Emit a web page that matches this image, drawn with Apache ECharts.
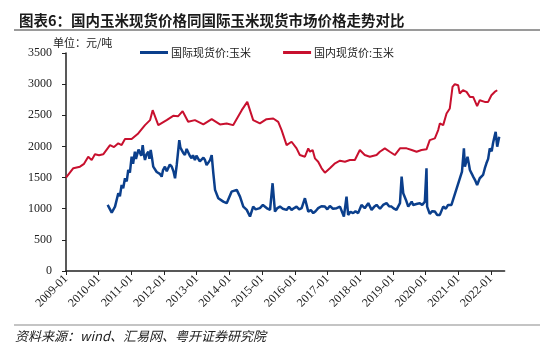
<!DOCTYPE html>
<html>
<head>
<meta charset="utf-8">
<script src="https://cdn.jsdelivr.net/npm/echarts@6/dist/echarts.min.js"></script>
<style>
html,body{margin:0;padding:0;background:#fff;}
#chart{width:550px;height:360px;}
</style>
</head>
<body>
<div id="chart"></div>
<script>
// ---- data ----
const titleText = '图表6：国内玉米现货价格同国际玉米现货市场价格走势对比';
const sourceText = '资料来源：wind、汇易网、粤开证券研究院';
const unitText = '单位：元/吨';
const intlName = '国际现货价:玉米';
const domName = '国内现货价:玉米';
const yearTicks = [2009,2010,2011,2012,2013,2014,2015,2016,2017,2018,2019,2020,2021,2022];

const domesticDates = ['2009-01-01','2009-03-22','2009-06-05','2009-07-20','2009-09-06','2009-10-14','2009-11-20','2010-01-05','2010-02-21','2010-05-06','2010-06-20','2010-08-07','2010-09-14','2010-10-21','2011-01-04','2011-03-17','2011-06-01','2011-07-27','2011-08-26','2011-10-28','2012-01-30','2012-04-12','2012-06-07','2012-07-26','2012-09-27','2012-12-11','2013-03-14','2013-06-16','2013-09-17','2013-12-01','2014-02-12','2014-05-17','2014-07-18','2014-09-23','2014-12-07','2015-02-20','2015-05-04','2015-06-29','2015-08-06','2015-10-01','2015-11-26','2016-01-21','2016-02-27','2016-04-23','2016-05-30','2016-06-18','2016-07-18','2016-08-13','2016-09-19','2016-10-27','2016-12-03','2017-01-28','2017-03-25','2017-05-19','2017-07-14','2017-09-08','2017-11-03','2017-12-28','2018-02-22','2018-04-18','2018-07-02','2018-08-08','2018-10-03','2018-11-28','2019-01-23','2019-03-20','2019-06-03','2019-07-29','2019-09-23','2019-11-17','2020-01-12','2020-02-18','2020-04-14','2020-05-21','2020-06-09','2020-07-16','2020-08-23','2020-09-29','2020-10-29','2020-11-24','2020-12-31','2021-01-18','2021-02-24','2021-04-03','2021-05-10','2021-06-16','2021-07-30','2021-08-29','2021-10-24','2021-12-01','2022-01-07','2022-02-13','2022-03-11'];
const domesticValues = [1500,1650,1675,1720,1835,1780,1873,1860,1873,2022,1990,2050,2022,2118,2118,2209,2342,2422,2582,2342,2422,2491,2486,2566,2395,2422,2353,2438,2353,2369,2342,2582,2715,2422,2369,2438,2449,2395,2262,2022,2075,1969,1862,1835,1969,1915,1942,1809,1755,1649,1579,1649,1729,1771,1755,1782,1782,1942,1862,1835,1862,1915,1969,1915,1862,1969,1969,1942,1915,1942,1953,2102,2129,2262,2369,2342,2529,2609,2955,2999,2982,2850,2902,2875,2795,2795,2646,2742,2715,2715,2822,2875,2902];

const intlDates = ['2010-04-10','2010-05-25','2010-07-01','2010-08-07','2010-08-25','2010-09-14','2010-10-01','2010-10-21','2010-11-10','2010-11-27','2010-12-15','2011-01-04','2011-01-20','2011-02-10','2011-02-22','2011-03-07','2011-03-20','2011-04-06','2011-04-20','2011-05-06','2011-05-18','2011-06-01','2011-06-20','2011-07-08','2011-07-20','2011-08-04','2011-08-18','2011-09-02','2011-09-20','2011-10-10','2011-10-28','2011-11-15','2011-12-05','2011-12-20','2012-01-11','2012-02-01','2012-02-17','2012-03-05','2012-03-26','2012-04-15','2012-05-02','2012-05-21','2012-06-19','2012-07-01','2012-07-15','2012-08-01','2012-08-21','2012-09-10','2012-09-27','2012-10-15','2012-11-04','2012-11-20','2012-12-11','2012-12-28','2013-01-17','2013-02-05','2013-02-24','2013-03-15','2013-04-02','2013-04-20','2013-05-09','2013-05-28','2013-06-16','2013-07-04','2013-07-23','2013-08-29','2013-10-24','2013-12-01','2014-01-25','2014-03-22','2014-04-28','2014-06-04','2014-07-12','2014-08-18','2014-09-23','2014-10-20','2014-12-07','2015-01-10','2015-02-01','2015-03-01','2015-03-29','2015-04-27','2015-05-23','2015-06-20','2015-07-18','2015-08-20','2015-10-01','2015-10-28','2015-11-26','2015-12-25','2016-01-21','2016-02-20','2016-03-17','2016-04-23','2016-05-30','2016-06-28','2016-07-25','2016-08-20','2016-09-19','2016-10-25','2016-12-03','2016-12-30','2017-01-28','2017-03-01','2017-04-13','2017-05-19','2017-07-02','2017-08-01','2017-08-19','2017-09-15','2017-10-14','2017-11-10','2017-12-09','2018-01-16','2018-02-22','2018-03-31','2018-05-07','2018-06-05','2018-07-02','2018-08-10','2018-09-14','2018-10-22','2018-11-20','2018-12-17','2019-01-15','2019-02-11','2019-03-20','2019-04-08','2019-04-26','2019-05-26','2019-06-21','2019-07-29','2019-08-15','2019-09-04','2019-10-01','2019-10-29','2019-11-25','2019-12-24','2020-01-12','2020-01-19','2020-02-18','2020-03-15','2020-04-14','2020-05-10','2020-06-09','2020-07-16','2020-08-15','2020-09-10','2020-10-17','2021-02-13','2021-03-04','2021-03-15','2021-04-01','2021-04-14','2021-05-01','2021-05-10','2021-06-01','2021-06-16','2021-07-10','2021-07-30','2021-08-29','2021-09-15','2021-10-05','2021-10-25','2021-11-12','2021-12-01','2021-12-19','2022-01-10','2022-01-25','2022-02-10','2022-02-24','2022-03-11','2022-04-03'];
const intlValues = [1061,938,1034,1249,1200,1382,1330,1489,1440,1622,1580,1835,1720,1915,1800,1782,1950,1969,1850,2022,1880,1782,1880,1915,1800,1942,1820,1675,1700,1590,1622,1560,1515,1620,1675,1600,1622,1710,1675,1600,1489,1702,2102,1980,1969,1900,1862,1960,1942,1850,1809,1860,1782,1850,1835,1760,1729,1820,1782,1700,1675,1780,1862,1569,1302,1169,1114,1089,1274,1302,1194,1034,981,874,1034,990,1009,1060,1034,1000,981,1409,954,1010,1034,1000,981,1030,981,1010,1034,990,1009,1169,954,980,929,960,1009,1040,1034,990,1045,1000,1009,1034,874,1194,901,950,929,960,929,1061,1009,1089,981,1030,1061,1000,1061,1089,1040,1034,1000,981,1089,1515,1249,1141,1034,1114,1060,1034,1080,1089,1060,1114,1649,1034,917,960,954,900,901,1034,1000,1061,1061,1595,1969,1675,1760,1835,1700,1622,1560,1515,1450,1382,1489,1500,1542,1650,1729,1800,1969,1920,2050,2150,2235,1995,2155];

// ---- chart ----
function toYear(s){
  const p = s.split('-').map(Number);
  return p[0] + (p[1]-1)/12 + (p[2]-1)/365;
}
const domSeries = domesticDates.map((d,i)=>[toYear(d), domesticValues[i]]);
const intlSeries = intlDates.map((d,i)=>[toYear(d), intlValues[i]]);

const BLUE = '#0B3F8C';
const RED = '#C8102E';
const serif = '"Liberation Serif", "Times New Roman", serif';
const cjk = '"Noto Sans CJK SC", sans-serif';

const chart = echarts.init(document.getElementById('chart'), null, {renderer:'canvas'});
chart.setOption({
  animation:false,
  backgroundColor:'#fff',
  title:{
    text:titleText,
    left:14, top:8,
    textStyle:{fontFamily:cjk, fontSize:14.5, fontWeight:'bold', color:'#1a1a1a'}
  },
  graphic:[
    {type:'line', shape:{x1:14,y1:30,x2:540,y2:30}, style:{stroke:'#9a9a9a', lineWidth:2}},
    {type:'line', shape:{x1:14,y1:325,x2:540,y2:325}, style:{stroke:'#b0b0b0', lineWidth:1.5}},
    {type:'text', left:15, top:330, style:{text:sourceText, font:'italic 13px "Noto Sans CJK SC", sans-serif', fill:'#222'}},
    {type:'text', left:53, top:37, style:{text:unitText, font:'11px "Noto Sans CJK SC", sans-serif', fill:'#222'}}
  ],
  legend:{
    left:135, top:42,
    itemWidth:28, itemHeight:3, itemGap:32,
    icon:'rect',
    textStyle:{fontFamily:cjk, fontSize:11, color:'#222', padding:[0,0,0,-2]},
    data:[intlName, domName]
  },
  grid:{left:66, right:45.4, top:53, bottom:89},
  xAxis:{
    type:'value', min:2009, max:2022.42, interval:1,
    splitLine:{show:false},
    axisLine:{lineStyle:{color:'#222', width:1.5}},
    axisTick:{show:true, inside:false, length:4, lineStyle:{color:'#222'}, customValues:yearTicks},
    axisLabel:{rotate:45, margin:6, fontFamily:serif, fontSize:12, color:'#222',
      customValues:yearTicks,
      formatter:v=>Math.round(v)+'-01'}
  },
  yAxis:{
    type:'value', min:0, max:3500, interval:500,
    splitLine:{show:false},
    axisLine:{show:true, lineStyle:{color:'#222', width:1.5}},
    axisTick:{show:true, inside:false, length:4, lineStyle:{color:'#222'}},
    axisLabel:{margin:14, fontFamily:serif, fontSize:12, color:'#222', formatter:v=>String(v)}
  },
  series:[
    {name:intlName, type:'line', data:intlSeries, showSymbol:false, symbol:'none',
      lineStyle:{color:BLUE, width:2.5}, itemStyle:{color:BLUE}},
    {name:domName, type:'line', data:domSeries, showSymbol:false, symbol:'none',
      lineStyle:{color:RED, width:2}, itemStyle:{color:RED}}
  ]
});
</script>
</body>
</html>
